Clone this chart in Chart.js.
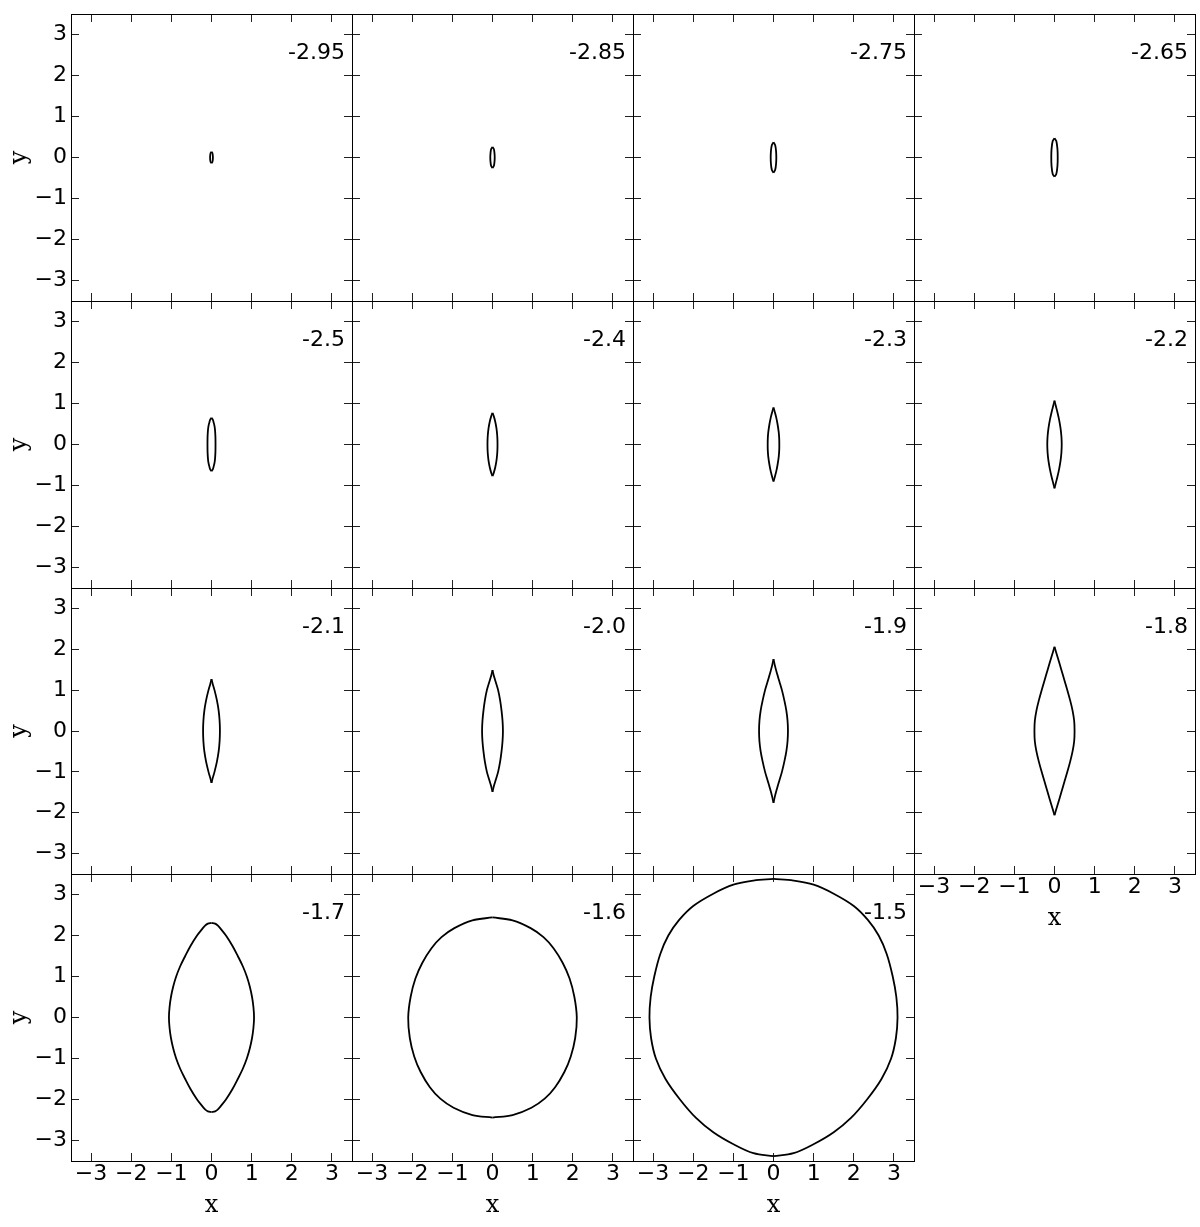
<!DOCTYPE html>
<html>
<head>
<meta charset="utf-8">
<script src="https://cdn.jsdelivr.net/npm/chart.js@4.4.1/dist/chart.umd.min.js"></script>
<style>
  html, body { margin: 0; padding: 0; background: #fff; }
  body { width: 1200px; height: 1227px; position: relative; overflow: hidden; }
  canvas { position: absolute; }
</style>
</head>
<body>
<script>
// ===== contour panels, one per energy level =====
const LEVELS = ["-2.95", "-2.85", "-2.75", "-2.65", "-2.5", "-2.4", "-2.3", "-2.2",
  "-2.1", "-2.0", "-1.9", "-1.8", "-1.7", "-1.6", "-1.5"];
const TICKS = [-3, -2, -1, 0, 1, 2, 3];

// right-hand half of each contour, read from the top tip down to the bottom tip
const Y_295 = [0.14, 0.1, 0, -0.1, -0.14];
const X_295 = [0, 0.025, 0.035, 0.025, 0];
const Y_285 = [0.26, 0.2, 0.1, 0, -0.1, -0.2, -0.26];
const X_285 = [0, 0.035, 0.05, 0.055, 0.05, 0.035, 0];
const Y_275 = [0.37, 0.3, 0.15, 0, -0.15, -0.3, -0.37];
const X_275 = [0, 0.042, 0.064, 0.07, 0.064, 0.042, 0];
const Y_265 = [0.47, 0.4, 0.2, 0, -0.2, -0.4, -0.47];
const X_265 = [0, 0.045, 0.074, 0.08, 0.074, 0.045, 0];
const Y_250 = [0.65, 0.6, 0.55, 0.45, 0.35, 0.18, 0, -0.18, -0.35, -0.45, -0.55, -0.6, -0.65];
const X_250 = [0, 0.035, 0.05, 0.075, 0.088, 0.098, 0.1, 0.098, 0.088, 0.075, 0.05, 0.035, 0];
const Y_240 = [0.77, 0.68, 0.55, 0.4, 0.25, 0.12, 0, -0.12, -0.25, -0.4, -0.55, -0.68, -0.77];
const X_240 = [0, 0.035, 0.07, 0.098, 0.115, 0.123, 0.125, 0.123, 0.115, 0.098, 0.07, 0.035, 0];
const Y_230 = [0.9, 0.8, 0.65, 0.5, 0.3, 0.15, 0, -0.15, -0.3, -0.5, -0.65, -0.8, -0.9];
const X_230 = [0, 0.03, 0.07, 0.1, 0.13, 0.142, 0.145, 0.142, 0.13, 0.1, 0.07, 0.03, 0];
const Y_220 = [1.07, 0.95, 0.8, 0.6, 0.4, 0.2, 0, -0.2, -0.4, -0.6, -0.8, -0.95, -1.07];
const X_220 = [0, 0.03, 0.07, 0.115, 0.15, 0.172, 0.18, 0.172, 0.15, 0.115, 0.07, 0.03, 0];
const Y_210 = [1.27, 1.15, 1.0, 0.75, 0.5, 0.25, 0, -0.25, -0.5, -0.75, -1.0, -1.15, -1.27];
const X_210 = [0, 0.03, 0.075, 0.135, 0.178, 0.202, 0.21, 0.202, 0.178, 0.135, 0.075, 0.03, 0];
const Y_200 = [1.49, 1.35, 1.2, 1.0, 0.75, 0.5, 0.25, 0, -0.25, -0.5, -0.75, -1.0, -1.2, -1.35, -1.49];
const X_200 = [0, 0.033, 0.08, 0.14, 0.19, 0.225, 0.25, 0.26, 0.25, 0.225, 0.19, 0.14, 0.08, 0.033, 0];
const Y_190 = [1.76, 1.6, 1.4, 1.2, 1.0, 0.75, 0.5, 0.25, 0, -0.25, -0.5, -0.75, -1.0, -1.2, -1.4, -1.6, -1.76];
const X_190 = [0, 0.035, 0.09, 0.15, 0.21, 0.27, 0.32, 0.35, 0.36, 0.35, 0.32, 0.27, 0.21, 0.15, 0.09, 0.035, 0];
const Y_180 = [2.06, 1.8, 1.5, 1.25, 1.0, 0.75, 0.5, 0.25, 0, -0.25, -0.5, -0.75, -1.0, -1.25, -1.5, -1.8, -2.06];
const X_180 = [0, 0.08, 0.17, 0.245, 0.32, 0.39, 0.45, 0.49, 0.5, 0.49, 0.45, 0.39, 0.32, 0.245, 0.17, 0.08, 0];
const Y_170 = [2.31, 2.29, 2.24, 2.15, 2.0, 1.75, 1.5, 1.25, 1.0, 0.75, 0.5, 0.25, 0,
  -0.25, -0.5, -0.75, -1.0, -1.25, -1.5, -1.75, -2.0, -2.15, -2.24, -2.29, -2.31];
const X_170 = [0, 0.09, 0.16, 0.24, 0.36, 0.52, 0.655, 0.78, 0.88, 0.955, 1.01, 1.045, 1.06,
  1.045, 1.01, 0.955, 0.88, 0.78, 0.655, 0.52, 0.36, 0.24, 0.16, 0.09, 0];
const Y_160 = [2.44, 2.37, 2.18, 1.96, 1.69, 1.33, 0.95, 0.5, 0,
  -0.5, -0.95, -1.33, -1.7, -1.98, -2.2, -2.38, -2.44];
const X_160 = [0, 0.5, 0.95, 1.27, 1.52, 1.75, 1.92, 2.04, 2.1,
  2.06, 1.95, 1.79, 1.56, 1.3, 0.97, 0.5, 0];
const Y_150 = [3.38, 3.34, 3.24, 3.02, 2.72, 2.38, 2.0, 1.55, 1.0, 0.5, 0,
  -0.5, -1.0, -1.5, -2.0, -2.45, -2.8, -3.08, -3.31, -3.38];
const X_150 = [0, 0.5, 1.0, 1.5, 2.0, 2.35, 2.62, 2.82, 2.97, 3.06, 3.09,
  3.05, 2.93, 2.69, 2.33, 1.93, 1.5, 1.02, 0.5, 0];

const CURVES = [
  [X_295, Y_295], [X_285, Y_285], [X_275, Y_275], [X_265, Y_265],
  [X_250, Y_250], [X_240, Y_240], [X_230, Y_230], [X_220, Y_220],
  [X_210, Y_210], [X_200, Y_200], [X_190, Y_190], [X_180, Y_180],
  [X_170, Y_170], [X_160, Y_160], [X_150, Y_150]
];

// ---- layout ----
const ML = 72, MT = 8, MR = 8, MB = 62;
const COL_X = c => 71 + c * 281;
const ROW_Y = r => Math.round(14 + r * 286.75);

const TICK_FONT = { family: "'DejaVu Sans', sans-serif", size: 22, lineHeight: 1.2 };
const TITLE_FONT = { family: "'DejaVu Serif', serif", size: 24, lineHeight: 1 };
const fmt = v => (v < 0 ? "\u2212" + Math.abs(v) : String(v));

const levelLabel = {
  id: "levelLabel",
  afterDraw(chart, args, opts) {
    const { ctx, chartArea } = chart;
    ctx.save();
    ctx.font = "22px 'DejaVu Sans', sans-serif";
    ctx.fillStyle = "#000";
    ctx.textAlign = "right";
    ctx.textBaseline = "alphabetic";
    ctx.fillText(opts.text, chartArea.right - 7, chartArea.top + 45);
    ctx.restore();
  }
};

function axis(position, showLabels, title, size) {
  const horiz = position === "top" || position === "bottom";
  return {
    type: "linear", position, min: -3.5, max: 3.5,
    afterBuildTicks: s => { s.ticks = TICKS.map(v => ({ value: v })); },
    afterFit: s => {
      if (horiz) s.height = size; else s.width = size;
      s.paddingTop = s.paddingBottom = s.paddingLeft = s.paddingRight = 0;
    },
    grid: { drawOnChartArea: false, drawTicks: true, tickLength: -8, tickColor: "#222", tickWidth: 1 },
    border: { display: true, color: "#000", width: 1 },
    ticks: {
      display: showLabels, autoSkip: false, maxRotation: 0, color: "#000",
      font: TICK_FONT, padding: horiz ? 8 : 12, callback: fmt
    },
    title: {
      display: !!title, text: title || "", color: "#000", font: TITLE_FONT,
      padding: horiz ? { top: 0, bottom: 5 } : { top: 9, bottom: 0 }
    }
  };
}

LEVELS.forEach((lvl, i) => {
  const r = Math.floor(i / 4), c = i % 4;
  const pw = COL_X(c + 1) - COL_X(c), ph = ROW_Y(r + 1) - ROW_Y(r);
  const showY = c === 0;
  const showX = r === 3 || (r === 2 && c === 3);

  const cv = document.createElement("canvas");
  cv.width = ML + pw + MR;
  cv.height = MT + ph + MB;
  cv.style.left = (COL_X(c) - ML) + "px";
  cv.style.top = (ROW_Y(r) - MT) + "px";
  document.body.appendChild(cv);

  const [xs, ys] = CURVES[i];
  const right = xs.map((x, k) => ({ x, y: ys[k] }));
  const left = xs.map((x, k) => ({ x: -x, y: ys[k] }));

  new Chart(cv, {
    type: "scatter",
    data: {
      datasets: [right, left].map(d => ({
        data: d, showLine: true, borderColor: "#000", borderWidth: 1.8,
        pointRadius: 0, tension: 0.35, fill: false
      }))
    },
    options: {
      responsive: false, animation: false, devicePixelRatio: 1,
      layout: { padding: 0 },
      plugins: { legend: { display: false }, tooltip: { enabled: false }, levelLabel: { text: lvl } },
      scales: {
        x: axis("bottom", showX, showX ? "x" : "", MB),
        y: axis("left", showY, showY ? "y" : "", ML),
        x2: axis("top", false, "", MT),
        y2: axis("right", false, "", MR)
      }
    },
    plugins: [levelLabel]
  });
});
</script>
</body>
</html>
